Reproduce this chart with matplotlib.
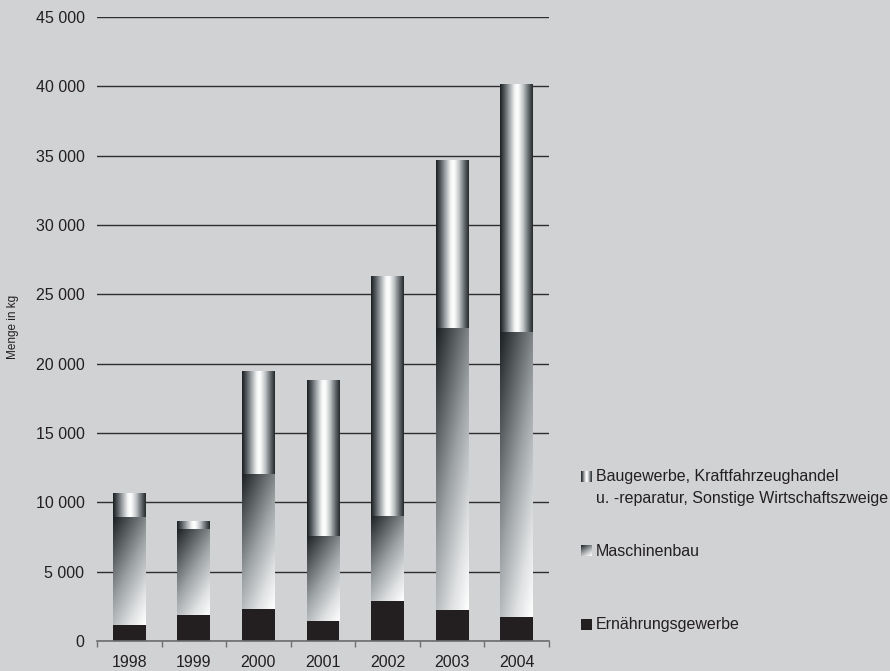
import numpy as np
import matplotlib
matplotlib.use("Agg")
import matplotlib.pyplot as plt
from matplotlib.colors import LinearSegmentedColormap
from matplotlib.ticker import FuncFormatter

years = ["1998", "1999", "2000", "2001", "2002", "2003", "2004"]
ernaehrung = [1150, 1880, 2310, 1440, 2880, 2240, 1730]
maschinenbau = [7800, 6220, 9760, 6160, 6130, 20360, 20580]
baugewerbe = [1720, 550, 7400, 11220, 17310, 12110, 17860]

legend_labels = [
    ["Baugewerbe, Kraftfahrzeughandel", "u. -reparatur, Sonstige Wirtschaftszweige"],
    ["Maschinenbau"],
    ["Ernährungsgewerbe"],
]

BG = "#d1d2d4"
DARK = "#231f20"

plt.rcParams["font.family"] = ["Liberation Sans", "DejaVu Sans"]

# cylinder-like horizontal shading and diagonal shading
cyl_cmap = LinearSegmentedColormap.from_list(
    "cyl",
    [(0.0, "#1b2023"), (0.12, "#4f5559"), (0.3, "#a9aeb1"), (0.45, "#f4f5f5"),
     (0.55, "#ffffff"), (0.7, "#c3c7c9"), (0.88, "#60666a"), (1.0, "#262b2e")])
diag_cmap = LinearSegmentedColormap.from_list(
    "diag", [(0.0, "#1c2023"), (0.5, "#9ea3a6"), (0.8, "#dfe1e2"), (1.0, "#ffffff")])

nx, ny = 64, 256
gx = np.linspace(0, 1, nx)
gy = np.linspace(0, 1, ny)
GX, GY = np.meshgrid(gx, gy)          # GY = 0 at top row (origin='upper')
cyl_img = np.tile(gx, (ny, 1))
diag_img = np.clip(0.38 * GX + 0.62 * GY, 0, 1)

W, H = 890, 671
fig = plt.figure(figsize=(8.9, 6.71), dpi=100, facecolor=BG)
ax = fig.add_axes([97 / W, 30 / H, 452 / W, 624 / H])
ax.set_facecolor(BG)

x = np.arange(len(years))
w = 0.51
b1 = ax.bar(x, ernaehrung, w, color=DARK, zorder=3)
bottom2 = np.array(ernaehrung)
b2 = ax.bar(x, maschinenbau, w, bottom=bottom2, color="none", zorder=3)
bottom3 = bottom2 + np.array(maschinenbau)
b3 = ax.bar(x, baugewerbe, w, bottom=bottom3, color="none", zorder=3)


def shade(bars, img, cmap):
    for p in bars.patches:
        x0, y0 = p.get_x(), p.get_y()
        x1, y1 = x0 + p.get_width(), y0 + p.get_height()
        im = ax.imshow(img, cmap=cmap, vmin=0, vmax=1, origin="upper",
                       extent=(x0, x1, y0, y1), aspect="auto",
                       interpolation="bilinear", zorder=3)
        im.set_clip_path(p)


shade(b2, diag_img, diag_cmap)
shade(b3, cyl_img, cyl_cmap)

ax.set_xlim(-0.5, len(years) - 0.5)
ax.set_ylim(0, 45000)
ax.set_yticks(np.arange(0, 45001, 5000))
ax.yaxis.set_major_formatter(FuncFormatter(lambda v, _: f"{int(v):,}".replace(",", " ")))
ax.yaxis.grid(True, color="#2e2e2e", linewidth=1.0, zorder=1)
ax.set_axisbelow(True)

for s in ["top", "right", "left"]:
    ax.spines[s].set_visible(False)
ax.spines["bottom"].set_color("#6e6e6e")
ax.spines["bottom"].set_linewidth(1.2)
ax.spines["bottom"].set_zorder(4)

ax.tick_params(axis="y", length=0, pad=9, labelsize=11.5, labelcolor=DARK)
ax.set_xticks(x)
ax.set_xticklabels(years)
ax.tick_params(axis="x", length=0, pad=10, labelsize=11.5, labelcolor=DARK)
ax.set_xticks(np.arange(-0.5, len(years), 1.0), minor=True)
ax.tick_params(axis="x", which="minor", length=4, width=1, color="#6e6e6e", direction="out")

fig.text(13 / W, 1 - 327 / H, "Menge in kg", rotation=90, fontsize=8.5,
         color=DARK, ha="center", va="center")

# legend swatches and labels
swatches = [(471, cyl_img, cyl_cmap), (545, diag_img, diag_cmap), (619, None, None)]
for (top, img, cmap), lines in zip(swatches, legend_labels):
    sax = fig.add_axes([581 / W, 1 - (top + 11) / H, 11 / W, 11 / H])
    sax.set_axis_off()
    if img is None:
        sax.add_patch(plt.Rectangle((0, 0), 1, 1, color=DARK))
        sax.set_xlim(0, 1)
        sax.set_ylim(0, 1)
    else:
        sax.imshow(img, cmap=cmap, vmin=0, vmax=1, aspect="auto",
                   extent=(0, 1, 0, 1), interpolation="bilinear")
    for i, line in enumerate(lines):
        fig.text(596 / W, 1 - (top + 6 + 21 * i) / H, line, fontsize=11.5,
                 color=DARK, ha="left", va="center")

fig.savefig("out.png", dpi=100, facecolor=BG)
